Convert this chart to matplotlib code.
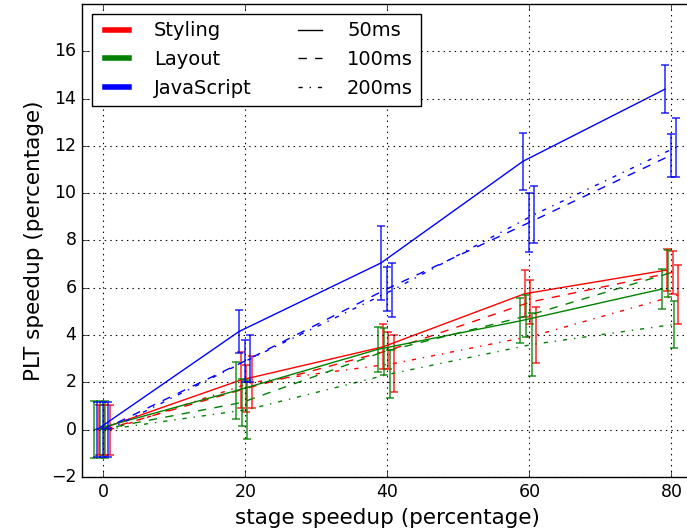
import numpy as np
import matplotlib
matplotlib.use("Agg")
import matplotlib.pyplot as plt
from matplotlib.lines import Line2D

plt.style.use("classic")

# stage speedup (x) and the three latency budgets
stages = [0, 20, 40, 60, 80]
latencies = ["50ms", "100ms", "200ms"]
categories = ["Styling", "Layout", "JavaScript"]

# PLT speedup, one row per latency (50, 100, 200 ms)
styling_mean = [[0, 2.1, 3.5, 5.75, 6.75],
                [0, 1.75, 3.35, 5.4, 6.65],
                [0, 2.0, 2.8, 4.0, 5.7]]
styling_err = [[1.05, 1.2, 0.95, 1.0, 0.9],
               [1.05, 1.0, 0.8, 0.95, 0.9],
               [1.05, 1.1, 1.2, 1.2, 1.25]]

layout_mean = [[0, 1.65, 3.4, 4.6, 5.95],
               [0, 1.15, 3.3, 4.8, 6.6],
               [0, 0.85, 2.35, 3.6, 4.45]]
layout_err = [[1.2, 1.2, 0.95, 0.95, 0.85],
              [1.2, 1.0, 1.0, 0.9, 1.0],
              [1.2, 1.25, 1.0, 1.35, 1.0]]

js_mean = [[0, 4.15, 7.05, 11.35, 14.4],
           [0, 2.9, 5.95, 8.75, 11.6],
           [0, 3.0, 5.9, 9.1, 11.95]]
js_err = [[1.15, 0.9, 1.55, 1.2, 1.0],
          [1.15, 0.9, 0.95, 1.25, 0.9],
          [1.15, 1.0, 1.15, 1.2, 1.25]]

colors = ["r", "g", "b"]
styles = ["-", "--", "-."]
# small x shifts so the error bars don't sit on top of each other
lat_shift = [-0.9, -0.1, 0.7]
cat_shift = [0.25, -0.4, 0.0]

means = [styling_mean, layout_mean, js_mean]
errs = [styling_err, layout_err, js_err]

fig = plt.figure(figsize=(6.87, 5.30), dpi=100, facecolor="white")
ax = fig.add_axes([0.1194, 0.1, 0.889, 0.8925])

x = np.array(stages, dtype=float)
for c in range(3):
    for l in range(3):
        xs = x + lat_shift[l] + cat_shift[c]
        ax.plot(xs, means[c][l], color=colors[c], ls=styles[l], lw=1.0)
        ax.errorbar(xs, means[c][l], yerr=errs[c][l], fmt="none",
                    ecolor=colors[c], elinewidth=1.1, capsize=3, capthick=1.1,
                    alpha=0.85)

ax.set_xlim(-3, 83)
ax.set_ylim(-2, 18)
ax.set_xticks(stages)
ax.set_yticks(np.arange(-2, 17, 2))
ax.tick_params(labelsize=12.5)
ax.grid(True, ls=":", color="k", lw=0.8)
ax.set_xlabel("stage speedup (percentage)", fontsize=15.5)
ax.set_ylabel("PLT speedup (percentage)", fontsize=15.5)

handles = [Line2D([], [], color=col, lw=4) for col in colors]
handles += [Line2D([], [], color="k", ls=s, lw=1) for s in styles]
labels = categories + latencies
ax.legend(handles, labels, loc="upper left", ncol=2, fontsize=14,
          handlelength=1.8, handletextpad=1.0, columnspacing=2.1,
          borderpad=0.4, labelspacing=0.5, fancybox=False)

fig.savefig("out.png", dpi=100, facecolor="white")
